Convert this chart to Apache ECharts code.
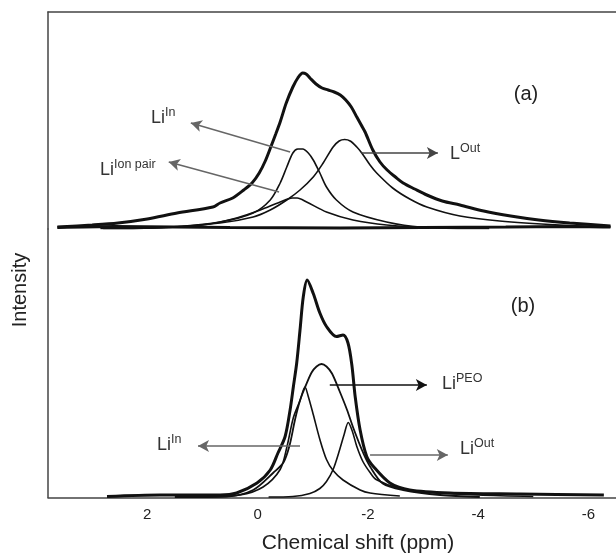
<!DOCTYPE html>
<html>
<head>
<meta charset="utf-8">
<script src="https://cdn.jsdelivr.net/npm/echarts@6/dist/echarts.min.js"></script>
<style>
  body, html { margin: 0; padding: 0; background: #ffffff; }
  #chart { width: 616px; height: 559px; }
</style>
</head>
<body>
<div id="chart"></div>
<script type="text/javascript">
// x ticks (ppm), axis runs right-to-left
const xTicks = [2, 0, -2, -4, -6];

// panel (a): [ppm, intensity]
const aTotal = [[3.63,2],[3.0,4],[2.53,6],[2.0,10],[1.46,16],[0.81,22],[0.68,26],[0.45,31],[0.25,39],[0.1,46],[-0.03,56],[-0.14,68],[-0.24,82],[-0.33,95],[-0.41,107],[-0.52,126],[-0.64,142],[-0.73,151],[-0.82,156],[-0.88,155],[-0.95,151],[-1.06,145],[-1.17,141],[-1.28,139],[-1.39,137],[-1.5,134],[-1.6,129],[-1.7,122],[-1.8,112],[-1.88,104],[-1.95,97],[-2.09,79],[-2.22,67],[-2.35,59],[-2.5,52],[-2.64,46],[-2.85,40],[-3.07,34],[-3.35,28],[-3.67,24],[-4.1,18],[-4.59,13],[-5.1,9],[-5.66,6],[-6.4,3]];
const aIn = [[2.5,1],[1.59,2],[0.68,7],[0.08,16],[-0.23,29],[-0.41,46],[-0.53,62],[-0.64,76],[-0.73,80],[-0.82,80],[-0.92,76],[-1.01,69],[-1.13,56],[-1.25,42],[-1.43,29],[-1.73,17],[-2.34,7],[-2.94,2],[-4.0,1]];
const aOut = [[2.8,0.5],[1.89,1],[0.68,6],[0.08,12],[-0.23,19],[-0.53,29],[-0.77,39],[-1.01,52],[-1.19,66],[-1.37,82],[-1.48,88],[-1.58,89.5],[-1.68,88],[-1.8,82],[-1.89,76],[-2.04,64],[-2.16,56],[-2.45,41],[-2.76,30],[-3.07,22],[-3.67,13],[-4.39,8],[-5.48,4],[-6.4,2]];
const aPair = [[2.85,0.5],[1.89,1],[0.99,4],[0.38,11],[-0.05,19],[-0.41,27],[-0.63,31],[-0.72,31],[-0.89,27],[-1.25,17],[-1.73,9],[-2.34,4],[-3.25,1],[-4.2,0.5]];
// noisy baseline of the measured spectrum (a)
const aBase = [[3.63,1.5],[2.6,2.5],[1.5,2],[0.5,1.5],[-1.5,1],[-3.0,1.5],[-4.5,2],[-5.6,2.5],[-6.4,2]];

// panel (b)
const bTotal = [[2.73,1],[1.77,2.5],[0.68,2.5],[0.38,4.5],[0.01,14.5],[-0.23,27.5],[-0.37,44.5],[-0.5,61],[-0.59,87.5],[-0.65,111],[-0.71,134.5],[-0.77,167.5],[-0.83,201],[-0.9,217.5],[-1.01,204],[-1.13,184.5],[-1.25,171],[-1.43,161],[-1.55,162.5],[-1.64,154.5],[-1.71,132.5],[-1.77,101],[-1.86,67.5],[-1.98,41],[-2.1,31],[-2.4,14.5],[-2.76,7.5],[-3.49,4.5],[-4.76,3.5],[-6.28,2.5]];
const bPEO = [[1.5,0.5],[0.56,1],[0.08,7.5],[-0.29,25],[-0.47,35],[-0.58,52],[-0.68,78],[-0.77,97],[-0.86,110],[-0.98,125],[-1.07,131],[-1.16,133.5],[-1.25,131],[-1.35,124],[-1.49,106],[-1.62,88],[-1.74,69],[-1.92,44],[-2.04,31],[-2.27,14],[-2.64,7.5],[-3.31,2.5],[-4.03,0.5]];
const bIn = [[1.04,0.5],[0.32,2.5],[-0.1,10.5],[-0.41,28],[-0.53,50],[-0.65,80],[-0.77,97],[-0.86,110.5],[-0.92,101],[-1.01,83],[-1.13,58],[-1.25,38],[-1.37,27],[-1.55,17.5],[-1.86,7.5],[-2.04,4.5],[-2.58,1.5]];
const bOut = [[-0.2,0.5],[-0.64,1],[-0.95,4],[-1.13,9],[-1.25,16],[-1.37,28],[-1.49,48],[-1.57,63],[-1.645,75],[-1.72,66],[-1.8,51],[-1.91,36],[-2.04,25],[-2.15,18],[-2.58,9],[-3.18,5],[-4.0,2.5],[-5.0,1]];

const FONT = "Liberation Sans, Arial, sans-serif";

function curve(name, data, idx, width) {
  return {
    name: name,
    type: "line",
    xAxisIndex: idx,
    yAxisIndex: idx,
    data: data,
    showSymbol: false,
    smooth: 0.3,
    lineStyle: { color: "#111", width: width },
    silent: true,
  };
}

function arrow(from, to, color) {
  return [
    { coord: from, lineStyle: { color: color, width: 1.5, type: "solid" } },
    { coord: to },
  ];
}

function tag(x, y, main, sup) {
  return {
    type: "text",
    x: x,
    y: y,
    style: {
      text: "{m|" + main + "}{s|" + sup + "}",
      fill: "#333",
      fontFamily: FONT,
      verticalAlign: "middle",
      rich: {
        m: { fontSize: 18, lineHeight: 24, fontFamily: FONT, fill: "#333" },
        s: { fontSize: 12.5, lineHeight: 14, verticalAlign: "top", fontFamily: FONT, fill: "#333" },
      },
    },
  };
}

let chart = echarts.init(document.getElementById("chart"));

let aTot = curve("a total", aTotal, 0, 3);
aTot.markLine = {
  silent: true,
  symbol: ["none", "arrow"],
  symbolSize: [9, 11],
  label: { show: false },
  data: [
    arrow([-0.59, 77], [1.21, 106], "#666"),
    arrow([-0.39, 37], [1.61, 67], "#666"),
    arrow([-1.88, 76], [-3.27, 76], "#444"),
  ],
};

let bTot = curve("b total", bTotal, 1, 3);
bTot.markLine = {
  silent: true,
  symbol: ["none", "arrow"],
  symbolSize: [9, 11],
  label: { show: false },
  data: [
    arrow([-1.31, 112.5], [-3.07, 112.5], "#111"),
    arrow([-0.77, 51.5], [1.08, 51.5], "#666"),
    arrow([-2.04, 42.5], [-3.45, 42.5], "#666"),
  ],
};

let xBase = {
  type: "value",
  min: -6.5,
  max: 3.8,
  inverse: true,
  splitLine: { show: false },
  axisTick: { show: false },
};

let yBase = {
  type: "value",
  min: 0,
  axisLine: { show: true, onZero: false, lineStyle: { color: "#444", width: 1.5 } },
  axisTick: { show: false },
  axisLabel: { show: false },
  splitLine: { show: false },
};

let option = {
  animation: false,
  backgroundColor: "#ffffff",
  grid: [
    { left: 48, top: 12, right: 0, height: 217 },
    { left: 48, top: 229, right: 0, height: 268.5 },
  ],
  xAxis: [
    Object.assign({}, xBase, {
      gridIndex: 0,
      position: "top",
      axisLine: { show: true, onZero: false, lineStyle: { color: "#444", width: 1.5 } },
      axisLabel: { show: false },
    }),
    Object.assign({}, xBase, {
      gridIndex: 1,
      position: "bottom",
      axisLine: { show: true, onZero: false, lineStyle: { color: "#444", width: 1.5 } },
      axisLabel: {
        customValues: xTicks,
        margin: 10,
        fontSize: 15,
        color: "#222",
        fontFamily: FONT,
      },
      name: "Chemical shift (ppm)",
      nameLocation: "middle",
      nameGap: 35,
      nameTextStyle: { fontSize: 21, color: "#222", fontFamily: FONT, padding: [0, 0, 0, 52] },
    }),
  ],
  yAxis: [
    Object.assign({}, yBase, { gridIndex: 0, max: 217 }),
    Object.assign({}, yBase, { gridIndex: 1, max: 268.5 }),
  ],
  graphic: [
    {
      type: "text", x: 20, y: 290, rotation: Math.PI / 2,
      style: { text: "Intensity", fontSize: 20, fill: "#222", fontFamily: FONT, align: "center", verticalAlign: "middle" },
    },
    { type: "text", x: 526, y: 94, style: { text: "(a)", fontSize: 20, fill: "#222", fontFamily: FONT, align: "center", verticalAlign: "middle" } },
    { type: "text", x: 523, y: 306, style: { text: "(b)", fontSize: 20, fill: "#222", fontFamily: FONT, align: "center", verticalAlign: "middle" } },
    tag(151, 118, "Li", "In"),
    tag(100, 170, "Li", "Ion pair"),
    tag(450, 154, "L", "Out"),
    tag(442, 384, "Li", "PEO"),
    tag(157, 445, "Li", "In"),
    tag(460, 449, "Li", "Out"),
  ],
  series: [
    curve("a baseline", aBase, 0, 3),
    aTot,
    curve("a Li In", aIn, 0, 1.6),
    curve("a L Out", aOut, 0, 1.6),
    curve("a Li ion pair", aPair, 0, 1.6),
    bTot,
    curve("b Li PEO", bPEO, 1, 1.8),
    curve("b Li In", bIn, 1, 1.6),
    curve("b Li Out", bOut, 1, 1.6),
  ],
};
chart.setOption(option);
</script>
</body>
</html>
